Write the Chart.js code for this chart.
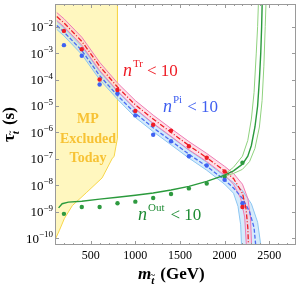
<!DOCTYPE html>
<html>
<head>
<meta charset="utf-8">
<script src="https://cdn.jsdelivr.net/npm/chart.js@4.4.1/dist/chart.umd.min.js"></script>
<style>
  html, body { margin: 0; padding: 0; background: #fff; }
  #wrap { width: 300px; height: 290px; }
</style>
</head>
<body>
<div id="wrap"><canvas id="chart" width="300" height="290"></canvas></div>
<script>
// axis ranges and ticks
const massMin = 100, massMax = 2800;
const tauMin = 5.5e-11, tauMax = 7.2e-2;
const massTicks = [500, 1000, 1500, 2000, 2500];
const tauExp = [-2, -3, -4, -5, -6, -7, -8, -9, -10];

// benchmark points (GeV, s)
const dotMass  = [200, 400, 600, 800, 1000, 1200, 1400, 1600, 1800, 2000, 2200];
const trDots   = [6.9e-3, 1.4e-3, 1.0e-4, 4.0e-5, 6.5e-6, 1.95e-6, 1.17e-6, 3.0e-7, 1.1e-7, 3.3e-8, 1.5e-9];
const piDots   = [2.0e-3, 7.9e-4, 6.5e-5, 2.95e-5, 4.4e-6, 8.1e-7, 4.6e-7, 1.26e-7, 5.6e-8, 1.6e-8, 2.1e-9];
const outDots  = [8.3e-10, 1.5e-9, 1.5e-9, 2.1e-9, 2.4e-9, 3.3e-9, 4.7e-9, 7.6e-9, 1.17e-8, 2.1e-8, 7.1e-8];

// n^Tr < 10 curve and band
const trMass   = [120, 200, 400, 600, 800, 1000, 1200, 1400, 1600, 1800, 2000, 2100, 2200, 2240, 2260, 2270];
const trTau    = [2.4e-2, 1.4e-2, 2.8e-3, 3.2e-4, 5.2e-5, 1.1e-5, 3.2e-6, 1.0e-6, 3.2e-7, 1.1e-7, 3.5e-8, 1.8e-8, 5.0e-9, 1.3e-9, 2.5e-10, 3.2e-11];
const trHiMass = [120, 200, 400, 600, 800, 1000, 1200, 1400, 1600, 1800, 2000, 2100, 2200, 2260, 2290, 2305];
const trHiTau  = [3.4e-2, 2.0e-2, 4.0e-3, 4.5e-4, 7.4e-5, 1.6e-5, 4.5e-6, 1.4e-6, 4.5e-7, 1.6e-7, 5.2e-8, 2.8e-8, 1.1e-8, 3.2e-9, 6.3e-10, 3.2e-11];
const trLoMass = [120, 200, 400, 600, 800, 1000, 1200, 1400, 1600, 1800, 2000, 2100, 2180, 2225, 2248];
const trLoTau  = [1.7e-2, 1.0e-2, 2.0e-3, 2.2e-4, 3.7e-5, 7.9e-6, 2.2e-6, 7.1e-7, 2.2e-7, 7.9e-8, 2.4e-8, 1.1e-8, 3.2e-9, 6.3e-10, 3.2e-11];

// n^Pi < 10 curve and band
const piMass   = [120, 200, 400, 600, 800, 1000, 1200, 1400, 1600, 1800, 2000, 2100, 2200, 2280, 2330, 2355];
const piTau    = [1.1e-2, 6.3e-3, 1.26e-3, 1.4e-4, 2.5e-5, 5.2e-6, 1.5e-6, 4.8e-7, 1.5e-7, 5.2e-8, 1.6e-8, 7.9e-9, 3.2e-9, 1.0e-9, 2.5e-10, 3.2e-11];
const piHiMass = [120, 200, 400, 600, 800, 1000, 1200, 1400, 1600, 1800, 2000, 2100, 2200, 2300, 2370, 2415];
const piHiTau  = [1.6e-2, 8.9e-3, 1.8e-3, 2.0e-4, 3.5e-5, 7.4e-6, 2.1e-6, 6.8e-7, 2.1e-7, 7.4e-8, 2.2e-8, 1.26e-8, 6.3e-9, 2.0e-9, 4.0e-10, 3.2e-11];
const piLoMass = [120, 200, 400, 600, 800, 1000, 1200, 1400, 1600, 1800, 2000, 2100, 2150, 2180, 2192];
const piLoTau  = [7.9e-3, 4.5e-3, 8.9e-4, 1.0e-4, 1.8e-5, 3.7e-6, 1.07e-6, 3.4e-7, 1.07e-7, 3.7e-8, 1.1e-8, 5.0e-9, 1.6e-9, 3.2e-10, 3.2e-11];

// n^Out < 10 curve and band
const outMass   = [140, 180, 250, 400, 600, 800, 1000, 1200, 1400, 1600, 1800, 2000, 2100, 2200, 2260, 2300, 2340, 2370, 2390, 2405, 2415, 2422];
const outTau    = [1.4e-9, 2.0e-9, 2.3e-9, 2.5e-9, 3.0e-9, 3.5e-9, 4.2e-9, 5.1e-9, 6.6e-9, 9.1e-9, 1.4e-8, 2.4e-8, 3.5e-8, 6.3e-8, 1.26e-7, 3.2e-7, 1.6e-6, 1.0e-5, 1.0e-4, 1.0e-3, 1.0e-2, 1.0e-1];
const outHiMass = [2000, 2100, 2200, 2260, 2300, 2330, 2355, 2370, 2380];
const outHiTau  = [2.6e-8, 4.8e-8, 1.26e-7, 5.0e-7, 3.2e-6, 3.2e-5, 1.0e-3, 1.0e-2, 1.0e-1];
const outLoMass = [2000, 2100, 2200, 2280, 2340, 2390, 2420, 2440, 2455, 2465];
const outLoTau  = [2.2e-8, 2.8e-8, 4.0e-8, 7.9e-8, 2.5e-7, 1.6e-6, 1.6e-5, 3.2e-4, 1.0e-2, 1.0e-1];

// MP excluded region outline
const mpMass = [800, 800, 783, 763, 739, 628, 450, 294, 206, 150, 100, 100];
const mpTau  = [7.2e-2, 6.0e-7, 3.0e-7, 1.26e-7, 1.0e-7, 1.9e-8, 5.2e-9, 1.7e-9, 5.6e-10, 2.0e-10, 8.5e-11, 7.2e-2];

const SERIF = '"Liberation Serif", "Times New Roman", serif';

function pts(xs, ys){ return xs.map((x, i) => ({ x, y: ys[i] })); }
function band(hiX, hiY, loX, loY){ return pts(hiX, hiY).concat(pts(loX, loY).reverse()); }

function lineSet(data, color, width, dash, order){
  return { type:'scatter', data, showLine:true, borderColor:color, borderWidth:width,
           borderDash:dash || [], pointRadius:0, fill:false, tension:0, order };
}
function dotSet(data, color, order){
  return { type:'scatter', data, showLine:false, pointRadius:2.2, pointBackgroundColor:color,
           pointBorderWidth:0, order };
}
function shapeSet(data, fillColor, border, order){
  return { type:'scatter', data, showLine:true, fill:'shape', backgroundColor:fillColor,
           borderColor:border || 'rgba(0,0,0,0)', borderWidth:border ? 1 : 0, pointRadius:0, order };
}

// draws a run of text pieces, some raised or lowered
function supText(ctx, x, y, parts){
  let cx = x;
  parts.forEach(p => {
    ctx.font = p.font;
    ctx.fillStyle = p.color;
    ctx.fillText(p.text, cx, y + (p.dy || 0));
    const w = ctx.measureText(p.text).width;
    if(p.tilde){
      ctx.font = 'bold 9px ' + SERIF;
      ctx.fillText('~', cx + w / 2 - 2.5, y + (p.dy || 0) - 6);
    }
    cx += w + (p.gap || 0);
  });
}

const framePlugin = {
  id: 'frame',
  afterDatasetsDraw(chart){
    const ctx = chart.ctx, a = chart.chartArea;
    const xs = chart.scales.x, ys = chart.scales.y;
    ctx.save();
    ctx.textBaseline = 'alphabetic';

    // region text
    ctx.textAlign = 'center';
    ctx.fillStyle = '#f7c234';
    ctx.font = 'bold 14px ' + SERIF;
    ctx.fillText('MP', 88, 123);
    ctx.fillText('Excluded', 88, 143);
    ctx.fillText('Today', 88, 162);

    ctx.textAlign = 'left';
    const big = 'italic 18px ' + SERIF, num = '17px ' + SERIF, sup = '11px ' + SERIF;
    supText(ctx, 123, 76, [
      { text:'n', font:big, color:'#ee1c25', gap:1 },
      { text:'Tr', font:sup, color:'#ee1c25', dy:-9, gap:4 },
      { text:'< 10', font:num, color:'#ee1c25' }
    ]);
    supText(ctx, 163, 112, [
      { text:'n', font:big, color:'#3f5ff0', gap:1 },
      { text:'Pi', font:sup, color:'#3f5ff0', dy:-9, gap:5 },
      { text:'< 10', font:num, color:'#3f5ff0' }
    ]);
    supText(ctx, 138, 220, [
      { text:'n', font:big, color:'#1f8c35', gap:1 },
      { text:'Out', font:sup, color:'#1f8c35', dy:-9, gap:6 },
      { text:'< 10', font:num, color:'#1f8c35' }
    ]);

    // frame
    ctx.strokeStyle = '#9a9a9a';
    ctx.lineWidth = 1;
    ctx.strokeRect(a.left + 0.5, a.top + 0.5, a.right - a.left - 1, a.bottom - a.top - 1);

    ctx.beginPath();
    for(let m = 200; m < massMax; m += 100){
      const px = Math.round(xs.getPixelForValue(m)) + 0.5;
      const len = m % 500 === 0 ? 4 : 2;
      ctx.moveTo(px, a.bottom); ctx.lineTo(px, a.bottom - len);
      ctx.moveTo(px, a.top); ctx.lineTo(px, a.top + len);
    }
    tauExp.forEach(e => {
      const py = Math.round(ys.getPixelForValue(Math.pow(10, e))) + 0.5;
      ctx.moveTo(a.left, py); ctx.lineTo(a.left + 4, py);
      ctx.moveTo(a.right, py); ctx.lineTo(a.right - 4, py);
    });
    ctx.stroke();

    // tick labels
    ctx.fillStyle = '#000';
    ctx.font = '12px ' + SERIF;
    ctx.textAlign = 'center';
    ctx.textBaseline = 'top';
    massTicks.forEach(m => ctx.fillText(String(m), xs.getPixelForValue(m), 250));

    ctx.textBaseline = 'alphabetic';
    ctx.textAlign = 'right';
    tauExp.forEach(e => {
      const py = ys.getPixelForValue(Math.pow(10, e));
      const s = '\u2212' + Math.abs(e);
      ctx.font = '9px ' + SERIF;
      const w = ctx.measureText(s).width;
      ctx.fillText(s, 53, py - 1);
      ctx.font = '13px ' + SERIF;
      ctx.fillText('10', 53 - w, py + 4.5);
    });

    // axis titles
    ctx.textAlign = 'left';
    supText(ctx, 138, 279, [
      { text:'m', font:'bold italic 17px ' + SERIF, color:'#000' },
      { text:'t', font:'bold italic 11px ' + SERIF, color:'#000', dy:5, gap:6, tilde:true },
      { text:'(GeV)', font:'bold 17px ' + SERIF, color:'#000' }
    ]);
    ctx.translate(14, 142);
    ctx.rotate(-Math.PI / 2);
    supText(ctx, 0, 0, [
      { text:'\u03c4', font:'bold 17px ' + SERIF, color:'#000' },
      { text:'t', font:'bold italic 11px ' + SERIF, color:'#000', dy:5, gap:6, tilde:true },
      { text:'(s)', font:'bold 17px ' + SERIF, color:'#000' }
    ]);
    ctx.restore();
  }
};

const datasets = [
  shapeSet(pts(mpMass, mpTau), '#fff7bf', '#f7d64a', 20),
  shapeSet(band(piHiMass, piHiTau, piLoMass, piLoTau), 'rgba(180,218,250,0.55)', null, 19),
  shapeSet(band(trHiMass, trHiTau, trLoMass, trLoTau), 'rgba(252,198,214,0.55)', null, 18),
  lineSet(pts(piHiMass, piHiTau), '#8cc6f2', 1, null, 15),
  lineSet(pts(piLoMass, piLoTau), '#8cc6f2', 1, null, 15),
  lineSet(pts(trHiMass, trHiTau), '#f07bb4', 1, null, 14),
  lineSet(pts(trLoMass, trLoTau), '#f07bb4', 1, null, 14),
  lineSet(pts(outHiMass, outHiTau), '#8fd27e', 1, null, 13),
  lineSet(pts(outLoMass, outLoTau), '#8fd27e', 1, null, 13),
  lineSet(pts(piMass, piTau), '#4a6cf2', 1.3, [4, 2], 12),
  lineSet(pts(trMass, trTau), '#ee1c25', 1.3, [5, 2, 1, 2], 11),
  lineSet(pts(outMass, outTau), '#2a9a3c', 1.4, null, 10),
  dotSet(pts(dotMass, outDots), '#2e9a40', 5),
  dotSet(pts(dotMass, piDots), '#3f62f2', 4),
  dotSet(pts(dotMass, trDots), '#ee1c25', 3)
];

new Chart(document.getElementById('chart'), {
  type: 'scatter',
  data: { datasets },
  options: {
    responsive: false,
    animation: false,
    events: [],
    layout: { padding: { left: 55, right: 2, top: 1, bottom: 45 } },
    plugins: { legend: { display: false }, tooltip: { enabled: false } },
    scales: {
      x: { type: 'linear', min: massMin, max: massMax, display: false },
      y: { type: 'logarithmic', min: tauMin, max: tauMax, display: false }
    }
  },
  plugins: [framePlugin]
});
</script>
</body>
</html>
